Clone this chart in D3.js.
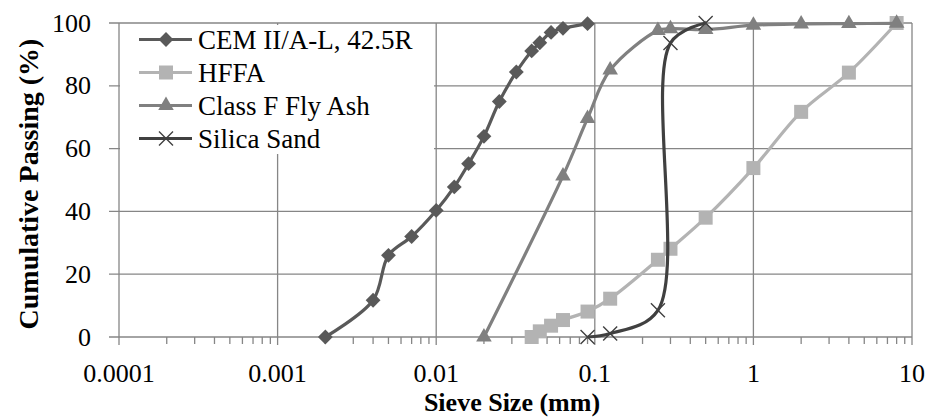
<!DOCTYPE html>
<html>
<head>
<meta charset="utf-8">
<script src="https://cdn.jsdelivr.net/npm/d3@7"></script>
<style>
  html, body { margin: 0; padding: 0; background: #fff; }
  svg { display: block; }
</style>
</head>
<body>
<div id="chart"></div>
<script>
// sieve sizes (mm) and cumulative passing (%) per material
const cemSize = [0.002, 0.004, 0.005, 0.007, 0.01, 0.013, 0.016, 0.02, 0.025, 0.032, 0.04, 0.045, 0.053, 0.063, 0.09];
const cemPass = [0, 11.7, 26, 32, 40.3, 47.8, 55.2, 63.9, 75, 84.4, 91.1, 93.7, 97, 98.3, 99.8];

const hffaSize = [0.04, 0.045, 0.053, 0.063, 0.09, 0.125, 0.25, 0.3, 0.5, 1, 2, 4, 8];
const hffaPass = [0, 1.8, 3.6, 5.4, 8.1, 12.2, 24.6, 28.1, 38, 53.8, 71.7, 84.2, 100];

const flyAshSize = [0.02, 0.063, 0.09, 0.125, 0.25, 0.3, 0.5, 1, 2, 4, 8];
const flyAshPass = [0, 51.3, 69.6, 85, 97.6, 98.2, 97.9, 99.3, 99.7, 99.8, 99.9];

const sandSize = [0.09, 0.125, 0.25, 0.3, 0.5];
const sandPass = [0, 1.1, 8.5, 93.6, 100];

const seriesNames = ["CEM II/A-L, 42.5R", "HFFA", "Class F Fly Ash", "Silica Sand"];
const xTickValues = [0.0001, 0.001, 0.01, 0.1, 1, 10];
const xTickLabels = ["0.0001", "0.001", "0.01", "0.1", "1", "10"];
const yTickValues = [0, 20, 40, 60, 80, 100];
const xTitle = "Sieve Size (mm)";
const yTitle = "Cumulative Passing (%)";

const W = 934, H = 417;
const margin = {top: 23, right: 22, bottom: 80, left: 119},
  width = W - margin.left - margin.right,
  height = H - margin.top - margin.bottom;

const gridColor = '#868686';
const fontFamily = '"Liberation Serif", "Times New Roman", serif';

const svg = d3.select('#chart')
  .append('svg')
  .attr('width', W)
  .attr('height', H)
  .style('font-family', fontFamily);

svg.append('rect').attr('width', W).attr('height', H).attr('fill', '#fff');

const g = svg.append('g')
  .attr('transform', 'translate(' + margin.left + ',' + margin.top + ')');

const x = d3.scaleLog().domain([0.0001, 10]).range([0, width]);
const y = d3.scaleLinear().domain([0, 100]).range([height, 0]);

// gridlines
g.selectAll('.hgrid')
  .data(yTickValues)
  .enter().append('line')
  .attr('x1', -10).attr('x2', width)
  .attr('y1', d => y(d)).attr('y2', d => y(d))
  .attr('stroke', gridColor).attr('stroke-width', 1.3);

g.selectAll('.vgrid')
  .data(xTickValues)
  .enter().append('line')
  .attr('x1', d => x(d)).attr('x2', d => x(d))
  .attr('y1', 0).attr('y2', height + 8)
  .attr('stroke', gridColor).attr('stroke-width', 1.3);

// minor log ticks along the x axis
const minor = [];
for (let k = -4; k < 1; k++) {
  for (let m = 2; m <= 9; m++) minor.push(m * Math.pow(10, k));
}
g.selectAll('.minor')
  .data(minor)
  .enter().append('line')
  .attr('x1', d => x(d)).attr('x2', d => x(d))
  .attr('y1', height).attr('y2', height + 7)
  .attr('stroke', gridColor).attr('stroke-width', 1.3);

// tick labels
g.selectAll('.xlab')
  .data(xTickValues)
  .enter().append('text')
  .attr('x', d => x(d))
  .attr('y', height + 45)
  .attr('text-anchor', 'middle')
  .attr('font-size', 26)
  .attr('fill', '#000')
  .text((d, i) => xTickLabels[i]);

g.selectAll('.ylab')
  .data(yTickValues)
  .enter().append('text')
  .attr('x', -28)
  .attr('y', d => y(d) + 8.5)
  .attr('text-anchor', 'end')
  .attr('font-size', 26)
  .attr('fill', '#000')
  .text(d => d);

// axis titles
svg.append('text')
  .attr('x', 512)
  .attr('y', 411)
  .attr('text-anchor', 'middle')
  .attr('font-size', 26)
  .attr('font-weight', 'bold')
  .text(xTitle);

svg.append('text')
  .attr('transform', 'translate(38,184) rotate(-90)')
  .attr('text-anchor', 'middle')
  .attr('font-size', 28)
  .attr('font-weight', 'bold')
  .text(yTitle);

// series
const series = [
  {name: seriesNames[0], size: cemSize, pass: cemPass, color: '#595959', marker: 'diamond'},
  {name: seriesNames[1], size: hffaSize, pass: hffaPass, color: '#b3b3b3', marker: 'square'},
  {name: seriesNames[2], size: flyAshSize, pass: flyAshPass, color: '#808080', marker: 'triangle'},
  {name: seriesNames[3], size: sandSize, pass: sandPass, color: '#404040', marker: 'cross'}
];

// excel-like smoothing without big overshoot
const line = d3.line()
  .x(d => x(d[0]))
  .y(d => y(d[1]))
  .curve(d3.curveCatmullRom.alpha(0.5));

function drawMarker(sel, type, color) {
  if (type === 'diamond') {
    sel.append('path')
      .attr('d', d3.symbol().type(d3.symbolSquare).size(110)())
      .attr('transform', 'rotate(45)')
      .attr('fill', color);
  } else if (type === 'square') {
    sel.append('path')
      .attr('d', d3.symbol().type(d3.symbolSquare).size(196)())
      .attr('fill', color);
  } else if (type === 'triangle') {
    sel.append('path')
      .attr('d', d3.symbol().type(d3.symbolTriangle).size(105)())
      .attr('fill', color);
  } else {
    sel.append('path')
      .attr('d', 'M-7,-7L7,7M-7,7L7,-7')
      .attr('stroke', color)
      .attr('stroke-width', 1.4)
      .attr('fill', 'none');
  }
}

series.forEach(s => {
  const pts = s.size.map((v, i) => [v, s.pass[i]]);
  g.append('path')
    .datum(pts)
    .attr('d', line)
    .attr('fill', 'none')
    .attr('stroke', s.color)
    .attr('stroke-width', 3.2);

  g.selectAll(null)
    .data(pts)
    .enter().append('g')
    .attr('transform', d => 'translate(' + x(d[0]) + ',' + y(d[1]) + ')')
    .each(function () { drawMarker(d3.select(this), s.marker, s.color); });
});

// legend
const legend = g.append('g');
legend.append('rect')
  .attr('x', 1).attr('y', 2)
  .attr('width', 314).attr('height', 129)
  .attr('fill', '#fff');

series.forEach((s, i) => {
  const cy = 16.5 + i * 33;
  const item = legend.append('g');
  item.append('line')
    .attr('x1', 20).attr('x2', 73)
    .attr('y1', cy).attr('y2', cy)
    .attr('stroke', s.color)
    .attr('stroke-width', 3.2);
  const m = item.append('g').attr('transform', 'translate(47,' + cy + ')');
  drawMarker(m, s.marker, s.color);
  item.append('text')
    .attr('x', 79)
    .attr('y', cy + 9.5)
    .attr('font-size', 27)
    .attr('fill', '#000')
    .text(s.name);
});
</script>
</body>
</html>
